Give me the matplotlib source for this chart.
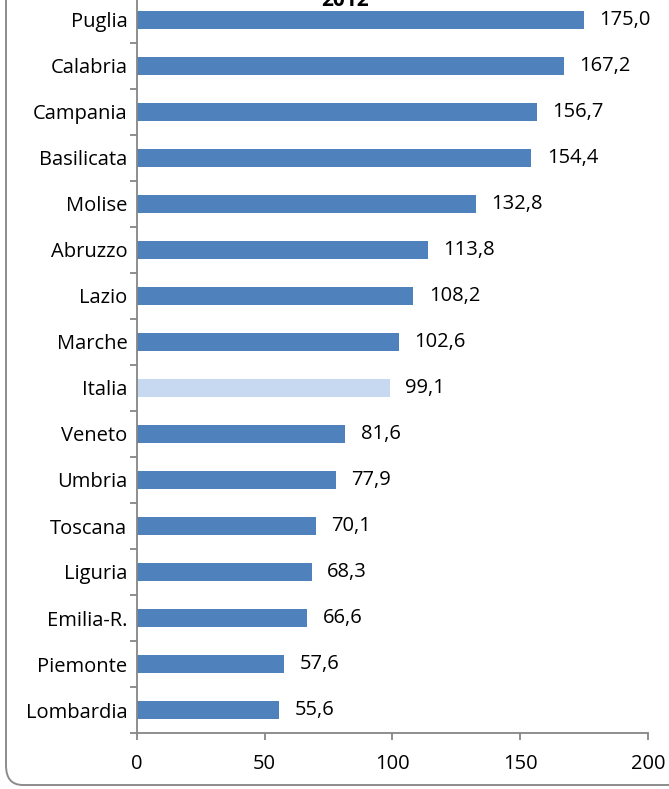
import matplotlib.pyplot as plt
import numpy as np
from matplotlib.patches import FancyBboxPatch

regions = ['Puglia', 'Calabria', 'Campania', 'Basilicata', 'Molise', 'Abruzzo',
           'Lazio', 'Marche', 'Italia', 'Veneto', 'Umbria', 'Toscana', 'Liguria',
           'Emilia-R.', 'Piemonte', 'Lombardia']
values = [175.0, 167.2, 156.7, 154.4, 132.8, 113.8, 108.2, 102.6, 99.1,
          81.6, 77.9, 70.1, 68.3, 66.6, 57.6, 55.6]
x_ticks = [0, 50, 100, 150, 200]

plt.rcParams['font.family'] = ['Open Sans', 'DejaVu Sans']

W, H = 669, 789
fig = plt.figure(figsize=(W / 100, H / 100), dpi=100)
ax = fig.add_axes([137 / W, 1 - 733 / H, (648 - 137) / W, (733 + 3) / H])

# rounded chart border like the spreadsheet frame
frame = FancyBboxPatch((6 / W, 4 / H), 700 / W, 820 / H,
                       boxstyle="round,pad=0,rounding_size=0.025",
                       transform=fig.transFigure, fill=False,
                       edgecolor='#8c8c8c', linewidth=1.4)
fig.patches.append(frame)

y = np.arange(len(regions))
colors = ['#C6D9F0' if r == 'Italia' else '#4F81BD' for r in regions]
ax.barh(y, values, height=0.40, color=colors)

for yi, v in zip(y, values):
    ax.annotate(f"{v:.1f}".replace('.', ','), (v, yi), xytext=(11, 0),
                textcoords='offset points', ha='left', va='center', fontsize=14.5)

ax.set_ylim(len(regions) - 0.5, -0.5)
ax.set_xlim(0, 200)
ax.set_yticks(y)
ax.set_yticklabels(regions, fontsize=14.5)
ax.set_yticks(np.arange(-0.5, len(regions), 1), minor=True)
ax.tick_params(axis='y', which='major', length=0, pad=7)
ax.tick_params(axis='y', which='minor', length=5, width=1.3, color='#868686')
ax.set_xticks(x_ticks)
ax.set_xticklabels([str(t) for t in x_ticks], fontsize=14.5)
ax.tick_params(axis='x', length=5, width=1.3, color='#868686', pad=10)

for s in ['top', 'right']:
    ax.spines[s].set_visible(False)
for s in ['left', 'bottom']:
    ax.spines[s].set_color('#868686')
    ax.spines[s].set_linewidth(1.3)

fig.text(345 / W, 1 - 1 / H, '2012', ha='center', va='center',
         fontsize=15, fontweight='bold')

fig.savefig('out.png', dpi=100)
